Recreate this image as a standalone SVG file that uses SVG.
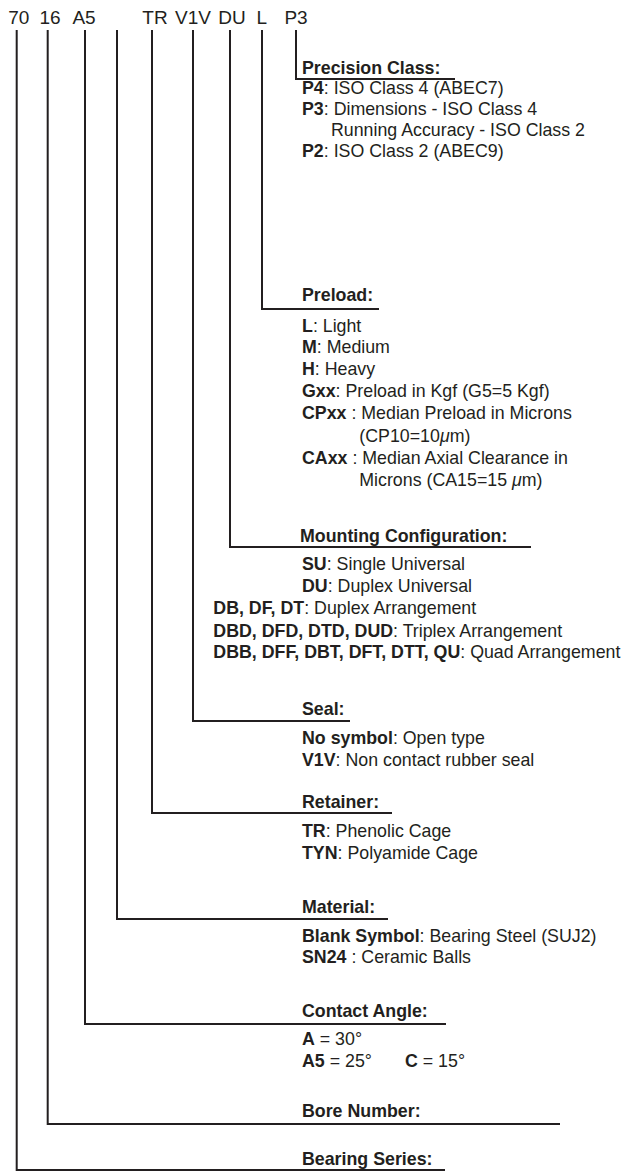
<svg xmlns="http://www.w3.org/2000/svg" width="632" height="1172" viewBox="0 0 632 1172">
<style>
text{font-family:"Liberation Sans",Arial,Helvetica,sans-serif;fill:#231f20;font-size:17.8px}
.code{font-size:19px;text-anchor:middle}
.h{font-weight:bold}
.b{font-weight:bold}
.i{font-style:italic}
.ln{fill:none;stroke:#231f20;stroke-width:2}
</style>
<rect width="632" height="1172" fill="#ffffff"/>
<g id="code">
<text class="code" x="18.8" y="24">70</text>
<text class="code" x="50" y="24">16</text>
<text class="code" x="84" y="24">A5</text>
<text class="code" x="155" y="24">TR</text>
<text class="code" x="193" y="24">V1V</text>
<text class="code" x="232" y="24">DU</text>
<text class="code" x="261.7" y="24">L</text>
<text class="code" x="296" y="24">P3</text>
</g>
<g id="connectors">
<path class="ln" d="M296,30 V79 H455"/>
<path class="ln" d="M262,30 V309 H379"/>
<path class="ln" d="M230,30 V547 H531"/>
<path class="ln" d="M193,30 V721 H350"/>
<path class="ln" d="M152,30 V813 H392"/>
<path class="ln" d="M117,30 V919 H388"/>
<path class="ln" d="M85,30 V1024 H446"/>
<path class="ln" d="M47.7,30 V1124 H560"/>
<path class="ln" d="M16.7,30 V1170 H445"/>
</g>
<g id="precision">
<text class="h" x="302" y="74">Precision Class:</text>
<text x="302" y="94.3"><tspan class="b">P4</tspan>: ISO Class 4 (ABEC7)</text>
<text x="302" y="115"><tspan class="b">P3</tspan>: Dimensions - ISO Class 4</text>
<text x="331" y="136">Running Accuracy - ISO Class 2</text>
<text x="302" y="156.7"><tspan class="b">P2</tspan>: ISO Class 2 (ABEC9)</text>
</g>
<g id="preload">
<text class="h" x="302" y="301">Preload:</text>
<text x="302" y="331.7"><tspan class="b">L</tspan>: Light</text>
<text x="302" y="353.3"><tspan class="b">M</tspan>: Medium</text>
<text x="302" y="375"><tspan class="b">H</tspan>: Heavy</text>
<text x="302" y="397.3"><tspan class="b">Gxx</tspan>: Preload in Kgf (G5=5 Kgf)</text>
<text x="302" y="419.3"><tspan class="b">CPxx</tspan> : Median Preload in Microns</text>
<text x="359.3" y="441.7">(CP10=10<tspan class="i">μ</tspan>m)</text>
<text x="302" y="464"><tspan class="b">CAxx</tspan> : Median Axial Clearance in</text>
<text x="359.3" y="486">Microns (CA15=15 <tspan class="i">μ</tspan>m)</text>
</g>
<g id="mounting">
<text class="h" x="300" y="541.7">Mounting Configuration:</text>
<text x="302" y="570"><tspan class="b">SU</tspan>: Single Universal</text>
<text x="302" y="591.7"><tspan class="b">DU</tspan>: Duplex Universal</text>
<text x="213.3" y="614"><tspan class="b">DB, DF, DT</tspan>: Duplex Arrangement</text>
<text x="213.3" y="636.7"><tspan class="b">DBD, DFD, DTD, DUD</tspan>: Triplex Arrangement</text>
<text x="213.3" y="658.3"><tspan class="b">DBB, DFF, DBT, DFT, DTT, QU</tspan>: Quad Arrangement</text>
</g>
<g id="seal">
<text class="h" x="302" y="715">Seal:</text>
<text x="302" y="744"><tspan class="b">No symbol</tspan>: Open type</text>
<text x="302" y="766"><tspan class="b">V1V</tspan>: Non contact rubber seal</text>
</g>
<g id="retainer">
<text class="h" x="302" y="808">Retainer:</text>
<text x="302" y="837"><tspan class="b">TR</tspan>: Phenolic Cage</text>
<text x="302" y="858.5"><tspan class="b">TYN</tspan>: Polyamide Cage</text>
</g>
<g id="material">
<text class="h" x="302" y="913">Material:</text>
<text x="302" y="941.7"><tspan class="b">Blank Symbol</tspan>: Bearing Steel (SUJ2)</text>
<text x="302" y="963"><tspan class="b">SN24</tspan> : Ceramic Balls</text>
</g>
<g id="contact-angle">
<text class="h" x="302" y="1016.7">Contact Angle:</text>
<text x="302" y="1045"><tspan class="b">A</tspan> = 30°</text>
<text x="302" y="1067.3"><tspan class="b">A5</tspan> = 25°</text>
<text x="405" y="1067.3"><tspan class="b">C</tspan> = 15°</text>
</g>
<g id="bore">
<text class="h" x="302" y="1117.3">Bore Number:</text>
</g>
<g id="series">
<text class="h" x="302" y="1165">Bearing Series:</text>
</g>
</svg>
